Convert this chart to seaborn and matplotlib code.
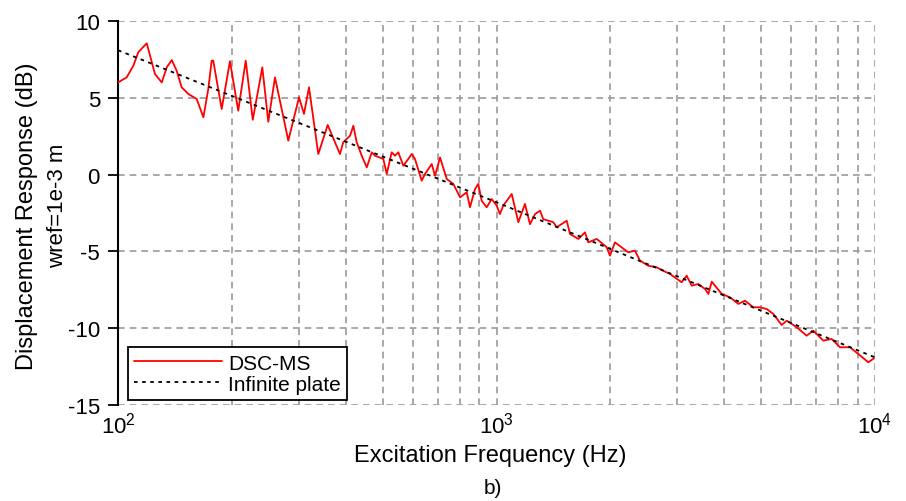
import numpy as np
import pandas as pd
import matplotlib
matplotlib.use("Agg")
import matplotlib.pyplot as plt
import matplotlib.ticker as mticker
import seaborn as sns

# ---- data ----
dsc_freq = [100, 105.4, 109.8, 113.1, 119.1, 125.2, 130.5, 134.5, 138.7, 142.9, 147.3,
            153.4, 161.4, 168.1, 173.2, 176.8, 178.5, 187.9, 197.6, 207.8, 217.5, 227.0,
            240.6, 249.5, 259.9, 281.8, 300.8, 310.0, 319.6, 338.2, 358.1, 385.8,
            393.6, 410.2, 418.6, 427.3, 440.5, 454.2, 468.2, 477.5, 502.3, 512.8, 528.6,
            539.3, 550.3, 567.3, 584.8, 597.0, 609.1, 634.4, 647.3, 674.3, 688.0, 709.2,
            738.9, 769.2, 801.1, 834.4, 851.1, 877.4, 895.1, 913.8, 942.0, 971.2, 1001,
            1021, 1042, 1097, 1142, 1189, 1226, 1264, 1303, 1329, 1413, 1442, 1533, 1564,
            1645, 1713, 1748, 1840, 1955, 1994, 2056, 2229, 2322, 2394, 2518, 2650, 2759,
            2873, 3085, 3180, 3279, 3413, 3556, 3628, 3704, 3936, 4140, 4354, 4535, 4770,
            4969, 5175, 5386, 5668, 5844, 6212, 6600, 6871, 7301, 7682, 8080, 8588, 9035,
            9601, 9940]
dsc_db = [6.0, 6.33, 7.09, 7.96, 8.55, 6.55, 6.0, 6.98, 7.46, 6.76, 5.68,
          5.25, 4.92, 3.73, 5.57, 7.42, 7.42, 4.27, 7.38, 4.16, 7.42, 3.57,
          6.98, 3.44, 6.33, 2.21, 5.03, 3.95, 5.68, 1.34, 3.23, 1.34,
          2.1, 2.53, 3.18, 2.1, 1.23, 0.47, 1.45, 1.23, 1.02, 0.04, 1.45,
          1.23, 1.45, 0.58, 1.02, 1.34, 1.02, -0.4, 0.04, 0.69, -0.07, 1.12,
          -0.29, -0.61, -1.48, -1.15, -2.13, -0.94, -0.61, -1.7, -2.13, -1.59, -2.02,
          -2.57, -2.02, -1.26, -3.1, -1.91, -3.23, -2.57, -2.35, -2.9, -3.1, -3.43, -3.0, -3.87,
          -4.19, -3.76, -4.41, -4.19, -4.73, -5.28, -4.41, -5.06, -4.95, -5.6, -5.93, -6.04, -6.26,
          -6.47, -7.01, -6.58, -7.23, -7.12, -7.45, -7.77, -6.97, -7.77, -7.99, -8.42, -8.21, -8.64,
          -8.64, -8.75, -9.07, -9.79, -9.51, -9.94, -10.49, -10.16, -10.81, -10.7, -11.24, -11.24, -11.68,
          -12.22, -11.96]

plate_freq = [100, 1000, 10000]
plate_db = [8.1, -1.8, -11.9]

y_ticks = [-15, -10, -5, 0, 5, 10]
x_ticks = [100, 1000, 10000]
x_ticklabels = [r'$10^{2}$', r'$10^{3}$', r'$10^{4}$']

# ---- styling ----
sns.set_style("white")
plt.rcParams['font.family'] = ['Liberation Sans Narrow', 'Liberation Sans', 'DejaVu Sans']
plt.rcParams['mathtext.fontset'] = 'custom'
plt.rcParams['mathtext.rm'] = 'Liberation Sans'
plt.rcParams['mathtext.it'] = 'Liberation Sans'
for k in ['text.color', 'axes.labelcolor', 'xtick.color', 'ytick.color']:
    plt.rcParams[k] = 'black'

fig = plt.figure(figsize=(9.06, 5.02), dpi=100)
ax = fig.add_axes([118/906, 1-406/502, (875-118)/906, (406-22)/502])

df_dsc = pd.DataFrame({"f": dsc_freq, "dB": dsc_db})
df_pl = pd.DataFrame({"f": plate_freq, "dB": plate_db})

sns.lineplot(data=df_dsc, x="f", y="dB", ax=ax, color="red", lw=1.3,
             label="DSC-MS", sort=False, zorder=3)
sns.lineplot(data=df_pl, x="f", y="dB", ax=ax, color="black", lw=1.3,
             label="Infinite plate", zorder=4)
ax.lines[1].set_dashes((2, 2.5))

ax.set_xscale("log")
ax.set_xlim(100, 10000)
ax.set_ylim(-15, 10)
ax.set_yticks(y_ticks)
ax.set_yticklabels([str(v) for v in y_ticks])
ax.xaxis.set_major_locator(mticker.FixedLocator(x_ticks))
ax.xaxis.set_major_formatter(mticker.FixedFormatter(x_ticklabels))
ax.xaxis.set_minor_locator(mticker.LogLocator(base=10, subs=np.arange(2, 10)))
ax.xaxis.set_minor_formatter(mticker.NullFormatter())

grid_kw = dict(color="#9a9a9a", linestyle=(0, (4, 3)), lw=1.2)
ax.grid(True, which="major", axis="both", **grid_kw)
ax.grid(True, which="minor", axis="x", **grid_kw)
ax.set_axisbelow(True)

for s in ["top", "right", "bottom"]:
    ax.spines[s].set_visible(False)
ax.spines["left"].set_color("black")
ax.spines["left"].set_linewidth(1.5)

ax.tick_params(axis="y", direction="out", length=7, width=1.3, color="black",
               labelsize=16, pad=6, left=True)
ax.tick_params(axis="x", which="both", length=0, labelsize=16, pad=5)

ax.set_xlabel("")
ax.set_ylabel("")
fig.text(490/906, 1-456/502, "Excitation Frequency (Hz)", ha="center", va="center", fontsize=17)
fig.text(493/906, 1-489/502, "b)", ha="center", va="center", fontsize=15)
fig.text(27/906, 1-216/502, "Displacement Response (dB)", rotation=90,
         ha="center", va="center", fontsize=17)
fig.text(58/906, 1-206/502, "wref=1e-3 m", rotation=90,
         ha="center", va="center", fontsize=16)

leg = ax.legend(loc="lower left", bbox_to_anchor=(10/757, 5/384), fontsize=15,
                frameon=True, fancybox=False, handlelength=4.2, borderpad=0.3,
                labelspacing=0.1, handletextpad=0.3, borderaxespad=0)
leg.get_frame().set_edgecolor("black")
leg.get_frame().set_linewidth(1.3)
leg.get_frame().set_alpha(1)

fig.savefig("out.png", dpi=100, facecolor="white")
